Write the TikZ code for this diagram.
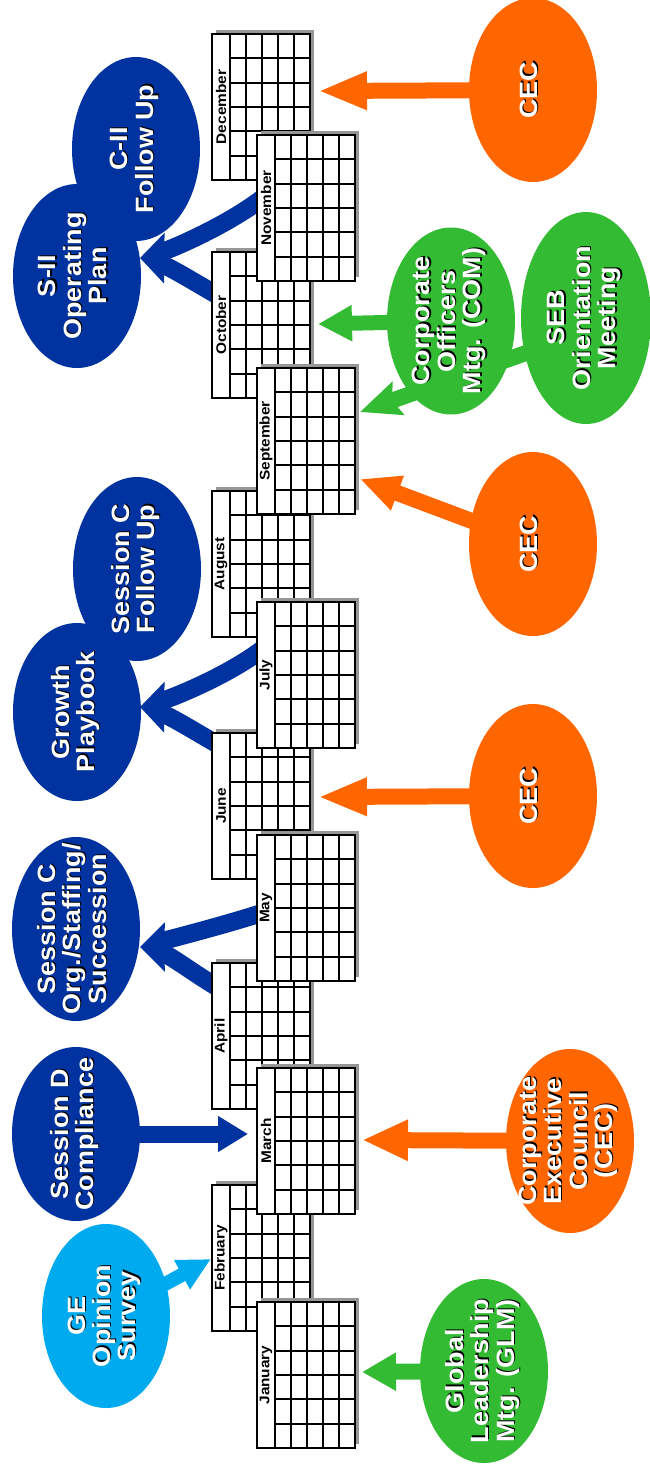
\documentclass[tikz,border=0pt]{standalone}
\usepackage{fontspec}
\setmainfont{Liberation Sans}
\newfontfamily\efont{Liberation Sans}[FakeStretch=1.08]
\newfontfamily\mfont{Liberation Sans}[FakeStretch=1.1]
\usetikzlibrary{arrows.meta,shapes.geometric}
\definecolor{eblue}{RGB}{0,51,160}
\definecolor{eorange}{RGB}{255,102,0}
\definecolor{egreen}{RGB}{51,187,51}
\definecolor{elblue}{RGB}{0,170,238}
\definecolor{calshadow}{RGB}{150,150,150}
\pgfdeclarelayer{bg}
\pgfsetlayers{bg,main}
\newbox\shbox
\newcommand\shtxt[1]{\setbox\shbox\hbox{\begin{tabular}{@{}c@{}}#1\end{tabular}}%
  \rlap{\kern1.2pt\raisebox{-1.2pt}{\color{black}\copy\shbox}}{\color{white}\copy\shbox}}
\tikzset{
  ell/.style={ellipse, minimum width=128pt, minimum height=184pt, inner sep=0pt, draw=none},
  etxt/.style={rotate=90, inner sep=0pt, font=\efont\fontsize{25}{24.5}\selectfont\bfseries},
  monthlbl/.style={rotate=90, inner sep=0pt, font=\mfont\fontsize{14}{14}\selectfont\bfseries},
  calgrid/.style={line width=1.9pt, draw=black},
  calframe/.style={line width=2.4pt, draw=black},
  straightarr/.style={line width=16pt},
  curvearr/.style={line width=18pt, draw=eblue, -{Stealth[length=30pt,width=34pt,inset=5pt]}},
}
\newcommand\monthcal[4]{%
  \fill[calshadow] (#2+4,#3-4) rectangle +(98,146);
  \fill[white] (#2,#3) rectangle +(98,146);
  \foreach \k in {1,...,4}{\draw[calgrid] (#2+18+16*\k,#3) -- +(0,146);}
  \foreach \k in {1,...,5}{\draw[calgrid] (#2+18,#3+146/6*\k) -- +(80,0);}
  \draw[calgrid] (#2+18,#3) -- +(0,146);
  \draw[calframe] (#2,#3) rectangle +(98,146);
  \node[monthlbl] (#1) at (#2+9,#3+73) {#4};
}
\begin{document}
\begin{tikzpicture}[x=1pt,y=-1pt]
\begin{pgfonlayer}{bg}
\fill[white] (0,0) rectangle (649,1470);
\end{pgfonlayer}
\useasboundingbox (0,0) rectangle (649,1470);

% ellipses
\node[ell, fill=eblue] (c2f) at (136,149) {};
\node[etxt] (c2ft) at (c2f) {\shtxt{C-II\\Follow Up}};
\node[ell, fill=eblue] (s2) at (77,276) {};
\node[etxt] (s2t) at (s2) {\shtxt{S-II\\Operating\\Plan}};
\node[ell, fill=eblue] (scf) at (137,569) {};
\node[etxt] (scft) at (scf) {\shtxt{Session C\\Follow Up}};
\node[ell, fill=eblue, minimum height=178pt] (gp) at (77,712) {};
\node[etxt] (gpt) at (gp) {\shtxt{Growth\\Playbook}};
\node[ell, fill=eblue] (sco) at (76,929) {};
\node[etxt] (scot) at (sco) {\shtxt{Session C\\Org./Staffing/\\Succession}};
\node[ell, fill=eblue, minimum height=174pt] (sd) at (76,1134) {};
\node[etxt] (sdt) at (sd) {\shtxt{Session D\\Compliance}};
\node[ell, fill=elblue] (ge) at (106,1316) {};
\node[etxt] (get) at (ge) {\shtxt{GE\\Opinion\\Survey}};

\node[ell, fill=eorange] (cec1) at (533,90) {};
\node[etxt] (cec1t) at (cec1) {\shtxt{CEC}};
\node[ell, fill=eorange] (cec2) at (533,544) {};
\node[etxt] (cec2t) at (cec2) {\shtxt{CEC}};
\node[ell, fill=eorange] (cec3) at (533,796) {};
\node[etxt] (cec3t) at (cec3) {\shtxt{CEC}};
\node[ell, fill=eorange] (cnc) at (570,1141) {};
\node[etxt] (cnct) at (cnc) {\shtxt{Corporate\\Executive\\Council\\(CEC)}};

\node[ell, fill=egreen] (glm) at (484,1371) {};
\node[etxt] (glmt) at (glm) {\shtxt{Global\\Leadership\\Mtg. (GLM)}};
\node[ell, fill=egreen, minimum width=130pt, minimum height=212pt] (seb) at (586,318) {};
\node[etxt] (sebt) at (seb) {\shtxt{SEB\\Orientation\\Meeting}};
\node[ell, fill=egreen, minimum height=187pt] (com) at (451,321) {};
\node[etxt] (comt) at (com) {\shtxt{Corporate\\Officers\\Mtg. (COM)}};

% tip coordinates
\coordinate (t1) at (318,91);
\coordinate (t2) at (360,479);
\coordinate (t3) at (318,797);
\coordinate (t4) at (362,1140);
\coordinate (t5) at (362,1372);
\coordinate (t6) at (318,324);
\coordinate (t7) at (360,412);
\coordinate (t8) at (211,1259);
\coordinate (t9) at (248,1134);
\coordinate (g1) at (140,258);
\coordinate (g2) at (140,707);
\coordinate (g3) at (140,947);
\coordinate (u1) at (270,192);
\coordinate (l1) at (222,298);
\coordinate (u2) at (270,643);
\coordinate (l2) at (222,747);
\coordinate (u3) at (268,911);
\coordinate (l3) at (222,990);

\begin{pgfonlayer}{bg}
\draw[straightarr, eorange, -{Triangle[length=49pt,width=35pt]}] (cec1.center) -- (t1);
\draw[straightarr, eorange, -{Triangle[length=40pt,width=34pt]}] (cec2.center) -- (t2);
\draw[straightarr, eorange, -{Triangle[length=49pt,width=35pt]}] (cec3.center) -- (t3);
\draw[straightarr, eorange, -{Triangle[length=46pt,width=38pt]}] (cnc.center) -- (t4);
\draw[straightarr, egreen, -{Triangle[length=34pt,width=36pt]}] (glm.center) -- (t5);
\draw[straightarr, line width=15pt, egreen, -{Triangle[length=34pt,width=34pt]}] (com.center) -- (t6);
\draw[straightarr, egreen, shorten <=-20pt, -{Stealth[length=40pt,width=34pt,inset=6pt]}] (seb.210) -- (t7);
\draw[straightarr, line width=14pt, elblue, -{Triangle[length=33pt,width=31pt]}] (ge.center) -- (t8);
\draw[straightarr, line width=17pt, eblue, -{Triangle[length=30pt,width=34pt]}] (sd.center) -- (t9);
\draw[curvearr] (u1) .. controls (235,222) and (172,249) .. (g1);
\draw[curvearr] (l1) .. controls (196,283) and (170,267) .. (g1);
\draw[curvearr] (u2) .. controls (235,673) and (172,698) .. (g2);
\draw[curvearr] (l2) .. controls (196,732) and (170,716) .. (g2);
\draw[curvearr] (u3) .. controls (225,925) and (170,939) .. (g3);
\draw[curvearr] (l3) .. controls (196,975) and (170,955) .. (g3);
\end{pgfonlayer}

% calendars: back row
\monthcal{dec}{212}{34}{December}
\monthcal{oct}{212}{252}{October}
\monthcal{aug}{212}{491}{August}
\monthcal{jun}{212}{733}{June}
\monthcal{apr}{212}{963}{April}
\monthcal{feb}{212}{1185}{February}
% front row
\monthcal{nov}{257}{135}{November}
\monthcal{sep}{257}{368}{September}
\monthcal{jul}{257}{602}{July}
\monthcal{may}{257}{835}{May}
\monthcal{mar}{257}{1068}{March}
\monthcal{jan}{257}{1302}{January}
\end{tikzpicture}
\end{document}
